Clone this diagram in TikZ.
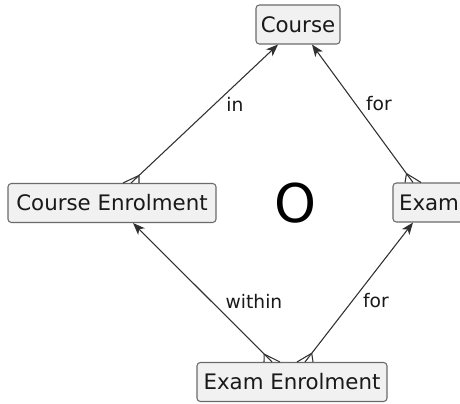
\documentclass[tikz,border=0pt]{standalone}
\usepackage{fontspec}
\setmainfont{DejaVu Sans}
\usetikzlibrary{calc,arrows.meta}

\definecolor{boxfill}{HTML}{F1F1F1}
\definecolor{boxline}{HTML}{6A6A6A}
\definecolor{linkline}{HTML}{303030}

\tikzset{
  entity/.style={draw=boxline, fill=boxfill, line width=0.8pt, rounded corners=2.5pt,
    inner sep=0pt, minimum height=39*0.75pt, font=\fontsize{16}{19}\selectfont, text=black!90},
  rolelabel/.style={inner sep=0pt, font=\fontsize{14}{17}\selectfont, text=black!90},
  link/.style={draw=linkline, line width=0.8pt,
    -{Stealth[length=9pt, width=7pt, inset=2.5pt]}},
  foot/.style={draw=linkline, line width=0.8pt},
}

% crow's foot: junction #1 a little way up the link from contact #2
\newcommand{\crowfoot}[2]{%
  \draw[foot] (#1) -- ($(#2)+(-8,0)$);
  \draw[foot] (#1) -- (#2);
  \draw[foot] (#1) -- ($(#2)+(8,0)$);
}

\begin{document}
\begin{tikzpicture}[x=0.75pt, y=-0.75pt]
  \useasboundingbox[fill=white] (0,0) rectangle (460,403);

  % entities
  \node[entity, minimum width=84*0.75pt]  (course) at (298,24.5) {Course};
  \node[entity, minimum width=208*0.75pt] (ce)     at (112,203)  {Course Enrolment};
  \node[entity, minimum width=72*0.75pt]  (exam)   at (429,202.5){Exam};
  \node[entity, minimum width=190*0.75pt] (ee)     at (292,382)  {Exam Enrolment};

  \node[inner sep=0pt, font=\fontsize{40}{44}\selectfont] (mark) at (295,203) {O};

  % contact points on the entity borders
  \coordinate (e1) at ($(ce.north)+(19,0)$);
  \coordinate (t1) at ($(course.south)+(-20,0)$);
  \coordinate (e2) at ($(exam.north)+(-16,0)$);
  \coordinate (t2) at ($(course.south)+(14,0)$);
  \coordinate (e3) at ($(ee.north)+(-20,0)$);
  \coordinate (t3) at ($(ce.south)+(21,0)$);
  \coordinate (e4) at ($(ee.north)+(13,0)$);
  \coordinate (t4) at ($(exam.south)+(-16,0)$);

  % crow's-foot junctions
  \coordinate (j1) at ($(e1)!8.25pt!(t1)$);
  \coordinate (j2) at ($(e2)!8.25pt!(t2)$);
  \coordinate (j3) at ($(e3)!8.25pt!(t3)$);
  \coordinate (j4) at ($(e4)!8.25pt!(t4)$);

  % relationships
  \draw[link] (j1) -- (t1);
  \draw[link] (j2) -- (t2);
  \draw[link] (j3) -- (t3);
  \draw[link] (j4) -- (t4);
  \crowfoot{j1}{e1}
  \crowfoot{j2}{e2}
  \crowfoot{j3}{e3}
  \crowfoot{j4}{e4}

  % role labels
  \node[rolelabel] (lin)     at (235,104) {in};
  \node[rolelabel] (lfor1)   at (379,104) {for};
  \node[rolelabel] (lwithin) at (254,301) {within};
  \node[rolelabel] (lfor2)   at (376,301) {for};
\end{tikzpicture}
\end{document}
